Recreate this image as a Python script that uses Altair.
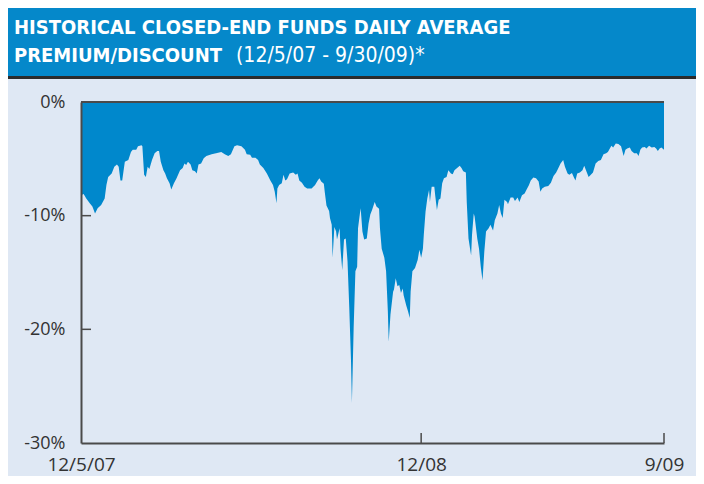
import altair as alt
import pandas as pd

# Calendar days since 12/5/07 and the daily average premium/discount (%)
days = [
    0, 3, 6, 10, 13, 16, 19, 23, 27, 29,
    31, 35, 38, 41, 43, 45, 47, 50, 54, 57,
    59, 63, 65, 69, 70, 72, 74, 76, 78, 81,
    84, 87, 89, 91, 94, 96, 98, 101, 103, 106,
    109, 113, 116, 118, 120, 122, 125, 127, 130, 132,
    134, 137, 140, 143, 149, 154, 160, 164, 168, 171,
    175, 178, 183, 187, 189, 193, 195, 199, 202, 204,
    208, 212, 216, 219, 221, 223, 224, 226, 229, 231,
    233, 235, 238, 242, 245, 247, 249, 252, 255, 258,
    263, 267, 270, 272, 274, 277, 278, 280, 283, 284,
    286, 287, 289, 291, 292, 295, 296, 298, 300, 302,
    304, 306, 308, 309, 311, 313, 315, 316, 318, 319,
    321, 323, 326, 328, 330, 332, 335, 337, 340, 341,
    343, 346, 348, 350, 351, 353, 356, 357, 359, 361,
    363, 365, 367, 368, 371, 373, 375, 376, 378, 381,
    384, 386, 388, 390, 391, 393, 395, 397, 398, 400,
    403, 404, 406, 408, 410, 412, 414, 417, 419, 422,
    424, 426, 429, 432, 434, 436, 439, 440, 442, 445,
    446, 448, 449, 452, 454, 456, 458, 460, 462, 465,
    467, 470, 472, 475, 477, 479, 481, 483, 486, 487,
    490, 493, 495, 498, 500, 503, 506, 508, 511, 513,
    516, 519, 522, 524, 526, 529, 533, 536, 539, 542,
    544, 547, 550, 552, 555, 557, 560, 562, 564, 566,
    569, 572, 574, 576, 579, 581, 584, 587, 590, 593,
    596, 599, 601, 605, 607, 610, 613, 616, 619, 621,
    623, 626, 628, 631, 634, 636, 638, 640, 643, 645,
    648, 651, 654, 656, 658, 660, 662, 665,
]
discount = [
    -8.2, -8.1, -8.5, -8.9, -9.2, -9.8, -9.35, -9.06, -8.5, -7.3,
    -6.6, -6.3, -5.7, -5.5, -5.7, -6.9, -6.9, -5.25, -5.1, -4.4,
    -4.2, -4.2, -3.9, -3.8, -3.9, -6.4, -6.6, -5.7, -5.9, -5.1,
    -4.5, -4.3, -4.3, -5.25, -6.0, -6.3, -6.7, -7.15, -7.7, -7.15,
    -6.7, -6.0, -5.8, -5.4, -5.55, -5.25, -5.5, -6.0, -6.1, -6.3,
    -5.5, -5.4, -4.95, -4.75, -4.6, -4.5, -4.4, -4.6, -4.75, -4.6,
    -3.9, -3.8, -3.9, -4.2, -4.6, -4.65, -4.9, -4.9, -5.1, -5.5,
    -5.8, -6.3, -6.9, -7.3, -7.9, -8.9, -7.6, -7.3, -7.15, -6.4,
    -6.9, -6.8, -6.3, -6.2, -6.4, -6.3, -6.9, -7.1, -7.45, -7.6,
    -7.6, -7.3, -6.9, -6.7, -7.0, -7.2, -7.9, -9.1, -9.6, -10.2,
    -10.8, -13.7, -11.0, -11.4, -12.1, -11.1, -12.9, -14.8, -12.1, -12.0,
    -14.0, -18.1, -22.8, -26.5, -19.9, -14.9, -14.5, -11.1, -9.9, -9.35,
    -11.4, -12.1, -12.0, -10.7, -9.9, -9.5, -8.8, -9.2, -9.4, -11.1,
    -12.9, -13.7, -14.9, -18.4, -21.1, -18.7, -16.7, -16.5, -15.5, -16.2,
    -16.1, -16.8, -16.4, -17.0, -17.9, -18.4, -19.0, -16.7, -14.9, -14.6,
    -13.9, -13.0, -13.7, -12.9, -11.7, -9.65, -8.5, -7.75, -8.8, -7.45,
    -7.45, -8.2, -9.5, -8.6, -8.5, -7.15, -6.7, -6.6, -6.0, -6.3,
    -6.35, -6.0, -5.8, -5.6, -5.8, -6.1, -6.2, -8.8, -12.0, -13.5,
    -11.7, -9.8, -10.1, -12.0, -12.9, -14.5, -15.7, -13.2, -11.4, -11.1,
    -10.8, -11.3, -10.4, -9.8, -9.06, -9.8, -10.2, -8.6, -8.8, -9.0,
    -8.4, -8.4, -8.7, -8.4, -8.8, -8.2, -8.05, -7.75, -7.3, -6.9,
    -6.65, -6.7, -7.0, -7.9, -7.6, -7.45, -7.4, -7.1, -6.5, -6.2,
    -5.9, -5.4, -5.1, -5.7, -6.3, -6.4, -6.25, -6.6, -6.9, -6.3,
    -6.2, -6.0, -5.6, -6.0, -6.6, -6.45, -6.2, -5.4, -5.2, -5.1,
    -4.6, -4.5, -4.4, -3.85, -4.0, -3.65, -3.7, -3.9, -4.75, -4.2,
    -4.1, -4.0, -4.3, -4.5, -4.5, -4.75, -4.2, -4.0, -3.95, -4.1,
    -3.85, -4.0, -3.95, -4.1, -4.3, -4.1, -4.0, -4.2,
]
assert len(days) == len(discount)

y_ticks = [0, -10, -20, -30]
x_tick_days = [0, 388, 665]
x_tick_labels = ["12/5/07", "12/08", "9/09"]
title_line1 = "HISTORICAL CLOSED-END FUNDS DAILY AVERAGE"
title_line2_bold = "PREMIUM/DISCOUNT"
title_line2_rest = "(12/5/07 - 9/30/09)*"

AREA = "#0088cc"
HEADER = "#0588ca"
PANEL = "#dfe8f4"
AXIS = "#4a4a4a"
TITLE_FONT = "DejaVu Sans Condensed, DejaVu Sans, sans-serif"
LABEL_FONT = "Open Sans, Noto Sans, sans-serif"

W, H = 583, 341
PAD_L, PAD_T, PAD_R, PAD_B = 73, 94, 32, 33

df = pd.DataFrame({"day": days, "discount": discount})
one = alt.Data(values=[{"k": 1}])

label_expr = " : ".join(
    f"datum.value == {d} ? '{l}'" for d, l in zip(x_tick_days[:-1], x_tick_labels[:-1])
) + f" : '{x_tick_labels[-1]}'"

xscale = alt.Scale(domain=[0, 665], nice=False, zero=False)
yscale = alt.Scale(domain=[-30, 0], nice=False)

panel = alt.Chart(one).mark_rect(color=PANEL).encode(
    x=alt.value(-PAD_L), x2=alt.value(W + PAD_R), y=alt.value(-23), y2=alt.value(H + PAD_B)
)
header = alt.Chart(one).mark_rect(color=HEADER).encode(
    x=alt.value(-PAD_L), x2=alt.value(W + PAD_R), y=alt.value(-PAD_T), y2=alt.value(-26)
)
header_line = alt.Chart(one).mark_rule(color="#2b2b2b", strokeWidth=3).encode(
    x=alt.value(-PAD_L), x2=alt.value(W + PAD_R), y=alt.value(-24.5)
)
t1 = alt.Chart(one).mark_text(
    text=title_line1, font=TITLE_FONT, fontWeight="bold", fontSize=20,
    color="white", align="left", baseline="alphabetic"
).encode(x=alt.value(-67), y=alt.value(-68))
t2 = alt.Chart(one).mark_text(
    text=title_line2_bold, font=TITLE_FONT, fontWeight="bold", fontSize=20,
    color="white", align="left", baseline="alphabetic"
).encode(x=alt.value(-67), y=alt.value(-40))
t3 = alt.Chart(one).mark_text(
    text=title_line2_rest, font=TITLE_FONT, fontWeight="normal", fontSize=21,
    color="white", align="left", baseline="alphabetic"
).encode(x=alt.value(155), y=alt.value(-40))

area = alt.Chart(df).mark_area(color=AREA, opacity=1).encode(
    x=alt.X("day:Q", scale=xscale,
            axis=alt.Axis(values=x_tick_days, labelExpr=label_expr, ticks=False,
                          grid=False, domainColor=AXIS, domainWidth=2,
                          labelFlush=False,
                          labelFont=LABEL_FONT, labelFontSize=19, labelColor="#333",
                          labelPadding=12, title=None, zindex=1)),
    y=alt.Y("discount:Q", scale=yscale, stack=None,
            axis=alt.Axis(values=y_ticks, labelExpr="datum.value + '%'", ticks=False,
                          grid=False, domainColor=AXIS, domainWidth=2,
                          labelFont=LABEL_FONT, labelFontSize=18, labelColor="#333",
                          labelPadding=16, title=None, zindex=1)),
)

top_rule = alt.Chart(one).mark_rule(color=AXIS, strokeWidth=2).encode(
    y=alt.datum(0, scale=yscale)
)
yticks = alt.Chart(pd.DataFrame({"v": y_ticks[1:3]})).mark_rule(
    color=AXIS, strokeWidth=1.5
).encode(y=alt.Y("v:Q", scale=yscale), x=alt.value(0), x2=alt.value(10))
xticks = alt.Chart(pd.DataFrame({"d": x_tick_days[1:]})).mark_rule(
    color=AXIS, strokeWidth=1.5
).encode(x=alt.X("d:Q", scale=xscale), y=alt.value(H - 10), y2=alt.value(H))

chart = alt.layer(
    panel, header, header_line, t1, t2, t3, area, top_rule, yticks, xticks
).properties(
    width=W, height=H,
    autosize=alt.AutoSizeParams(type="none"),
    padding={"left": PAD_L, "top": PAD_T, "right": PAD_R, "bottom": PAD_B},
    background="white",
).configure_view(stroke=None)

chart.save("out.html", embed_options={"renderer": "svg", "actions": False})
